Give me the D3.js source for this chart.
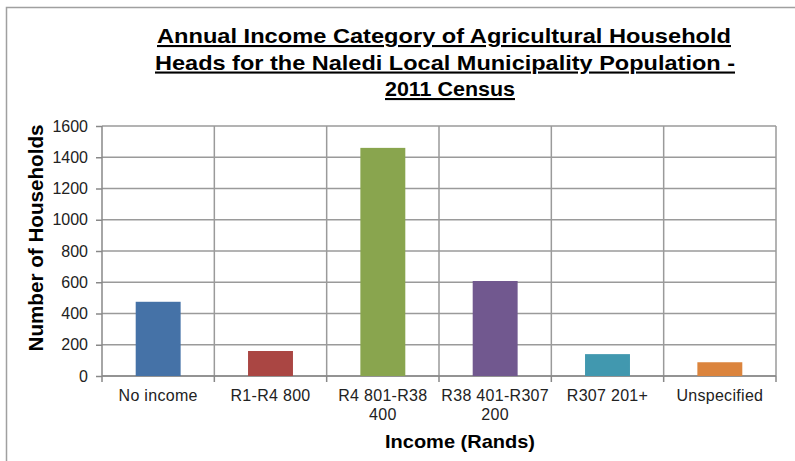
<!DOCTYPE html>
<meta charset="utf-8">
<style>
    body { margin: 0; background: #fff; }
    text { font-family: "Liberation Sans", Arial, sans-serif; }
    .tick text { font-size: 16px; fill: #222; }
</style>
<div id="my_dataviz"></div>
<script src="https://d3js.org/d3.v7.min.js"></script>
<script>

    // data
    var categories = ["No income", "R1-R4 800", "R4 801-R38 400", "R38 401-R307 200", "R307 201+", "Unspecified"];
    var labelLines = [["No income"], ["R1-R4 800"], ["R4 801-R38", "400"], ["R38 401-R307", "200"], ["R307 201+"], ["Unspecified"]];
    var households = [475, 160, 1460, 608, 140, 88];
    var colors = ["#4572A7", "#AA4643", "#89A54E", "#71588F", "#4198AF", "#DB843D"];
    var yTicks = [0, 200, 400, 600, 800, 1000, 1200, 1400, 1600];
    var titleLines = ["Annual Income Category of Agricultural Household",
        "Heads for the Naledi Local Municipality Population -",
        "2011 Census"];

    var W = 795, H = 461;
    var margin = { top: 126, right: 19, bottom: 85, left: 102 },
        width = W - margin.left - margin.right,
        height = H - margin.top - margin.bottom;

    var root = d3.select("#my_dataviz")
        .append("svg")
        .attr("width", W)
        .attr("height", H);

    // chart frame
    root.append("rect")
        .attr("x", 6.5).attr("y", 7.5)
        .attr("width", W + 10).attr("height", H + 10)
        .attr("fill", "none")
        .attr("stroke", "#a0a0a0")
        .attr("stroke-width", 1.5);

    // title, one text per line so each can be fitted to its width
    var titleX = [444, 445, 450], titleW = [574, 580, 130];
    root.append("g")
        .selectAll("text")
        .data(titleLines)
        .enter()
        .append("text")
        .attr("text-anchor", "middle")
        .attr("x", function (d, i) { return titleX[i]; })
        .attr("y", function (d, i) { return 43 + i * 26.5; })
        .attr("textLength", function (d, i) { return titleW[i]; })
        .attr("lengthAdjust", "spacingAndGlyphs")
        .style("font-size", "21px")
        .style("font-weight", "bold")
        .style("text-decoration", "underline")
        .text(function (d) { return d; });

    var svg = root.append("g")
        .attr("transform", "translate(" + margin.left + "," + margin.top + ")");

    var x = d3.scaleBand()
        .domain(categories)
        .range([0, width]);

    var y = d3.scaleLinear()
        .domain([0, 1600])
        .range([height, 0]);

    // horizontal gridlines
    svg.append("g")
        .selectAll("line")
        .data(yTicks)
        .enter()
        .append("line")
        .attr("x1", 0).attr("x2", width)
        .attr("y1", function (d) { return y(d); })
        .attr("y2", function (d) { return y(d); })
        .attr("stroke", "#9a9a9a")
        .attr("stroke-width", 1.5);

    // vertical gridlines at category boundaries
    svg.append("g")
        .selectAll("line")
        .data(categories)
        .enter()
        .append("line")
        .attr("x1", function (d) { return x(d) + x.bandwidth(); })
        .attr("x2", function (d) { return x(d) + x.bandwidth(); })
        .attr("y1", 0).attr("y2", height)
        .attr("stroke", "#9a9a9a")
        .attr("stroke-width", 1.5);

    // y axis
    var yAxis = svg.append("g")
        .call(d3.axisLeft(y).tickValues(yTicks).tickSize(6).tickPadding(8).tickFormat(d3.format("d")));
    yAxis.selectAll("line, path").attr("stroke", "#888").attr("stroke-width", 1.5);
    yAxis.select(".domain").attr("d", "M0,0V" + height);

    // x axis
    var xAxis = svg.append("g")
        .attr("transform", "translate(0," + height + ")")
        .call(d3.axisBottom(x).tickSize(0).tickFormat(""));
    xAxis.select(".domain").attr("stroke", "#888").attr("stroke-width", 1.5).attr("d", "M0,0H" + width);
    xAxis.selectAll(".tick").remove();
    xAxis.selectAll(".xt")
        .data([0].concat(categories))
        .enter()
        .append("line")
        .attr("x1", function (d, i) { return i * x.step(); })
        .attr("x2", function (d, i) { return i * x.step(); })
        .attr("y1", 0).attr("y2", 6)
        .attr("stroke", "#888")
        .attr("stroke-width", 1.5);

    // category labels
    svg.append("g")
        .selectAll("text")
        .data(categories)
        .enter()
        .append("text")
        .attr("text-anchor", "middle")
        .style("font-size", "16px")
        .style("letter-spacing", "0.3px")
        .style("fill", "#222")
        .each(function (d, i) {
            var t = d3.select(this);
            labelLines[i].forEach(function (l, j) {
                t.append("tspan")
                    .attr("x", x(d) + x.bandwidth() / 2)
                    .attr("y", height + 25 + j * 19)
                    .text(l);
            });
        });

    // bars
    svg.selectAll("mybar")
        .data(households)
        .enter()
        .append("rect")
        .attr("x", function (d, i) { return x(categories[i]) + x.bandwidth() * 0.3; })
        .attr("width", x.bandwidth() * 0.4)
        .attr("y", function (d) { return y(d); })
        .attr("height", function (d) { return height - y(d); })
        .attr("fill", function (d, i) { return colors[i]; });

    // x axis label
    svg.append("text")
        .attr("x", 460 - margin.left)
        .attr("y", height + 72)
        .attr("textLength", 150)
        .attr("lengthAdjust", "spacingAndGlyphs")
        .style("text-anchor", "middle")
        .style("font-size", "19px")
        .style("font-weight", "bold")
        .text("Income (Rands)");

    // y axis label
    svg.append("text")
        .attr("transform", "rotate(-90)")
        .attr("y", -59)
        .attr("x", -(238 - margin.top))
        .attr("textLength", 227)
        .attr("lengthAdjust", "spacingAndGlyphs")
        .style("text-anchor", "middle")
        .style("font-size", "20px")
        .style("font-weight", "bold")
        .text("Number of Households");

</script>
